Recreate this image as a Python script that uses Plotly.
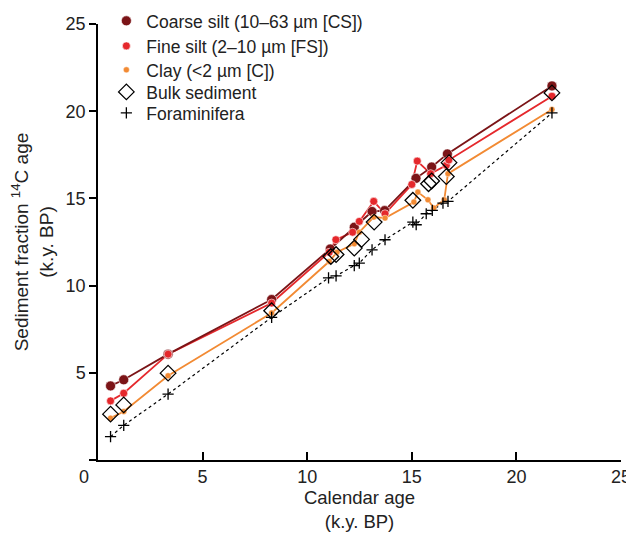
import plotly.graph_objects as go

# ---- data (calendar age, k.y. BP ; 14C age, k.y. BP) ----
cs_x = [0.6, 1.23, 3.35, 8.3, 11.1, 12.25, 13.1, 13.7, 15.2, 15.95, 16.7, 21.7]
cs_y = [4.25, 4.6, 6.07, 9.2, 12.1, 13.35, 14.25, 14.3, 16.15, 16.8, 17.55, 21.45]

fs_x = [0.6, 1.23, 3.35, 8.3, 11.05, 11.37, 12.17, 12.49, 13.18, 13.72, 15.0, 15.26, 15.9, 16.65, 16.77, 21.7]
fs_y = [3.39, 3.83, 6.07, 9.0, 11.91, 12.63, 13.06, 13.68, 14.83, 14.12, 15.8, 17.14, 16.42, 16.9, 17.2, 20.86]

c_x = [0.6, 1.23, 3.35, 8.3, 11.05, 11.42, 12.25, 12.49, 13.18, 13.72, 15.1, 15.29, 15.77, 16.05, 16.55, 16.73, 21.7]
c_y = [2.4, 2.78, 4.83, 8.43, 11.38, 11.91, 12.4, 13.06, 13.93, 13.87, 14.79, 15.36, 14.92, 14.45, 14.92, 16.42, 20.1]

bulk_x = [0.6, 1.23, 3.35, 8.3, 11.13, 11.38, 12.25, 12.6, 13.2, 15.05, 15.8, 15.95, 16.65, 16.78, 21.7]
bulk_y = [2.63, 3.16, 4.98, 8.56, 11.67, 11.78, 12.15, 12.65, 13.64, 14.89, 15.84, 16.0, 16.25, 17.05, 21.05]

foram_x = [0.6, 1.23, 3.35, 8.3, 11.02, 11.38, 12.25, 12.49, 13.1, 13.72, 15.05, 15.21, 15.69, 15.98, 16.49, 16.73, 21.7]
foram_y = [1.34, 1.99, 3.78, 8.18, 10.44, 10.56, 11.15, 11.29, 12.05, 12.63, 13.64, 13.49, 14.12, 14.31, 14.73, 14.83, 19.9]

x_ticks = [0, 5, 10, 15, 20, 25]
y_ticks = [0, 5, 10, 15, 20, 25]

series_names = ["Coarse silt (10–63 µm [CS])", "Fine silt (2–10 µm [FS])",
                "Clay (<2 µm [C])", "Bulk sediment", "Foraminifera"]

CS_COL = "#7b1417"
FS_COL = "#e5282c"
C_COL = "#f28a33"

FONT = "Liberation Sans, Arial, sans-serif"
TXT = "#222222"

fig = go.Figure()

# connecting lines (no legend)
fig.add_trace(go.Scatter(x=foram_x, y=foram_y, mode="lines", showlegend=False,
                         line=dict(color="black", width=1.2, dash="dot"), hoverinfo="skip"))
fig.add_trace(go.Scatter(x=c_x, y=c_y, mode="lines", showlegend=False,
                         line=dict(color=C_COL, width=1.8), hoverinfo="skip"))
fig.add_trace(go.Scatter(x=fs_x, y=fs_y, mode="lines", showlegend=False,
                         line=dict(color=FS_COL, width=1.8), hoverinfo="skip"))
fig.add_trace(go.Scatter(x=cs_x, y=cs_y, mode="lines", showlegend=False,
                         line=dict(color=CS_COL, width=1.8), hoverinfo="skip"))

# markers (each in its own legend row)
fig.add_trace(go.Scatter(x=cs_x, y=cs_y, mode="markers", name=series_names[0], legend="legend",
                         marker=dict(color=CS_COL, size=10, line=dict(color="white", width=0.6))))
fig.add_trace(go.Scatter(x=fs_x, y=fs_y, mode="markers", name=series_names[1], legend="legend2",
                         marker=dict(color=FS_COL, size=8, line=dict(color="white", width=0.6))))
fig.add_trace(go.Scatter(x=c_x, y=c_y, mode="markers", name=series_names[2], legend="legend3",
                         marker=dict(color=C_COL, size=6, line=dict(color="white", width=0.4))))
fig.add_trace(go.Scatter(x=bulk_x, y=bulk_y, mode="markers", name=series_names[3], legend="legend4",
                         marker=dict(symbol="diamond-open", color="black", size=12,
                                     line=dict(color="black", width=1.3))))
fig.add_trace(go.Scatter(x=foram_x, y=foram_y, mode="markers", name=series_names[4], legend="legend5",
                         marker=dict(symbol="cross-thin", color="black", size=8,
                                     line=dict(color="black", width=1.3))))

legend_rows_y = [1.007, 0.9495, 0.8945, 0.844, 0.796]


def leg(y):
    return dict(x=0.016, y=y, xanchor="left", yanchor="middle",
                bgcolor="rgba(0,0,0,0)", font=dict(family=FONT, size=17.5, color=TXT),
                itemsizing="trace", itemwidth=30, borderwidth=0)


# the page body adds an 8 px offset, so the figure is 8 px smaller and margins shifted
fig.update_layout(
    width=626, height=527,
    margin=dict(l=90, r=13, t=16, b=75, autoexpand=False),
    paper_bgcolor="white", plot_bgcolor="white",
    font=dict(family=FONT, size=17, color=TXT),
    legend=leg(legend_rows_y[0]),
    legend2=leg(legend_rows_y[1]),
    legend3=leg(legend_rows_y[2]),
    legend4=leg(legend_rows_y[3]),
    legend5=leg(legend_rows_y[4]),
    xaxis=dict(range=[0, 25], tickvals=x_ticks, ticktext=[""] + [str(v) for v in x_ticks[1:]],
               ticks="inside", ticklen=8, tickwidth=1.5, tickcolor="black",
               tickfont=dict(family=FONT, size=18, color=TXT), automargin=False,
               showline=True, linecolor="black", linewidth=1.5, showgrid=False, zeroline=False,
               title=dict(text="Calendar age<br>(k.y. BP)", standoff=4,
                          font=dict(family=FONT, size=18.5, color=TXT))),
    yaxis=dict(range=[0, 25], tickvals=y_ticks, ticktext=[""] + [str(v) for v in y_ticks[1:]],
               ticks="outside", ticklen=7, tickwidth=1.5, tickcolor="black",
               tickfont=dict(family=FONT, size=18, color=TXT), automargin=False,
               showline=True, linecolor="black", linewidth=1.5, showgrid=False, zeroline=False,
               title=dict(text="Sediment fraction <sup>14</sup>C age<br>(k.y. BP)", standoff=8,
                          font=dict(family=FONT, size=19, color=TXT))),
)

fig.add_annotation(x=0, y=0, xref="x", yref="y", text="0", showarrow=False,
                   xshift=-14, yshift=-17, font=dict(family=FONT, size=18, color=TXT))

fig.write_html("out.html")
